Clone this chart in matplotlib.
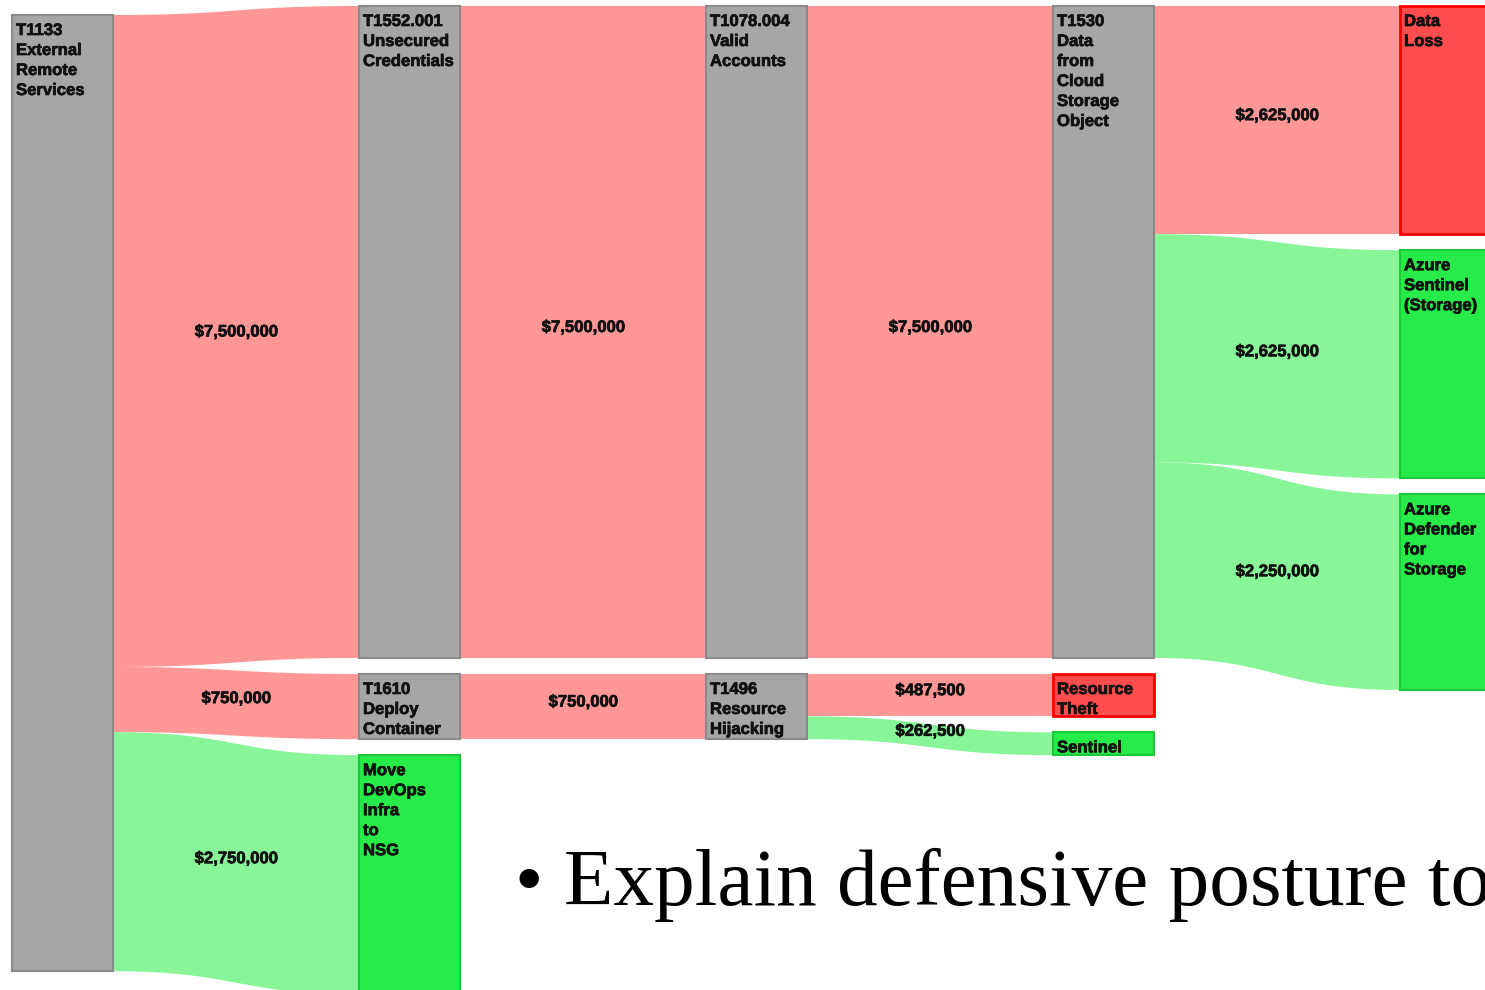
import matplotlib
matplotlib.use("Agg")
import matplotlib.pyplot as plt
from matplotlib.patches import Rectangle
import matplotlib.patheffects as pe
import numpy as np

# ---------------- data ----------------
node_names = [
    "T1133\nExternal\nRemote\nServices",          # 0
    "T1552.001\nUnsecured\nCredentials",           # 1
    "T1610\nDeploy\nContainer",                    # 2
    "Move\nDevOps\nInfra\nto\nNSG",                # 3
    "T1078.004\nValid\nAccounts",                  # 4
    "T1496\nResource\nHijacking",                  # 5
    "T1530\nData\nfrom\nCloud\nStorage\nObject",   # 6
    "Resource\nTheft",                             # 7
    "Sentinel",                                    # 8
    "Data\nLoss",                                  # 9
    "Azure\nSentinel\n(Storage)",                  # 10
    "Azure\nDefender\nfor\nStorage",               # 11
]
node_kind = ["gray", "gray", "gray", "green", "gray", "gray", "gray",
             "red", "green", "red", "green", "green"]
node_column = [0, 1, 1, 1, 2, 2, 3, 3, 3, 4, 4, 4]

link_source = [0, 0, 0, 1, 2, 4, 5, 5, 6, 6, 6]
link_target = [1, 2, 3, 4, 5, 6, 7, 8, 9, 10, 11]
link_value = [7_500_000, 750_000, 2_750_000, 7_500_000, 750_000, 7_500_000,
              487_500, 262_500, 2_625_000, 2_625_000, 2_250_000]
link_kind = ["red", "red", "green", "red", "red", "red",
             "red", "green", "red", "green", "green"]

slide_text = "\u2022 Explain defensive posture to"

# ---------------- styles / layout ----------------
W, H = 1485, 990
PX_PER_DOLLAR = 86.93 / 1_000_000
NODE_W = 101
COL_X0 = 12
COL_STEP = 347
GAP = 16
COL_TOP = {0: 15, 1: 6, 2: 6, 3: 6, 4: 6}

node_fill = {"gray": "#a6a6a6", "red": "#ff4d4d", "green": "#26eb48"}
node_edge = {"gray": "#8a8a8a", "red": "#ff0000", "green": "#1cc83a"}
link_fill = {"red": "#ff9797", "green": "#89f599"}

FONT = "Liberation Sans"
FS = 12
stroke = [pe.withStroke(linewidth=0.5, foreground="#111111")]

fig = plt.figure(figsize=(W / 100, H / 100), dpi=100)
ax = fig.add_axes([0, 0, 1, 1])
ax.set_xlim(0, W)
ax.set_ylim(H, 0)
ax.axis("off")

# node values
n = len(node_names)
in_sum = np.zeros(n)
out_sum = np.zeros(n)
for s, t, v in zip(link_source, link_target, link_value):
    out_sum[s] += v
    in_sum[t] += v
node_val = np.maximum(in_sum, out_sum)

# node positions
node_x = [COL_X0 + c * COL_STEP for c in node_column]
node_y = [0.0] * n
node_h = [v * PX_PER_DOLLAR for v in node_val]
cursor = {}
for i in range(n):
    c = node_column[i]
    y = cursor.get(c, COL_TOP[c])
    node_y[i] = y
    cursor[c] = y + node_h[i] + GAP

# link positions
order = sorted(range(len(link_value)), key=lambda k: (link_source[k], node_y[link_target[k]]))
src_off = {i: node_y[i] for i in range(n)}
tgt_off = {i: node_y[i] for i in range(n)}
link_geom = {}
for k in order:
    s = link_source[k]
    h = link_value[k] * PX_PER_DOLLAR
    link_geom[k] = {"sy": src_off[s], "h": h}
    src_off[s] += h
order_t = sorted(range(len(link_value)), key=lambda k: (link_target[k], node_y[link_source[k]]))
for k in order_t:
    t = link_target[k]
    link_geom[k]["ty"] = tgt_off[t]
    tgt_off[t] += link_geom[k]["h"]


def bez(x0, y0, x1, y1, num=80):
    tt = np.linspace(0, 1, num)
    xm = (x0 + x1) / 2
    px = (1 - tt) ** 3 * x0 + 3 * (1 - tt) ** 2 * tt * xm + 3 * (1 - tt) * tt ** 2 * xm + tt ** 3 * x1
    py = (1 - tt) ** 3 * y0 + 3 * (1 - tt) ** 2 * tt * y0 + 3 * (1 - tt) * tt ** 2 * y1 + tt ** 3 * y1
    return px, py


for k in range(len(link_value)):
    s, t = link_source[k], link_target[k]
    g = link_geom[k]
    x0 = node_x[s] + NODE_W
    x1 = node_x[t]
    tx, ty = bez(x0, g["sy"], x1, g["ty"])
    bx, by = bez(x0, g["sy"] + g["h"], x1, g["ty"] + g["h"])
    xs = np.concatenate([tx, bx[::-1]])
    ys = np.concatenate([ty, by[::-1]])
    ax.fill(xs, ys, color=link_fill[link_kind[k]], lw=0, zorder=1)
    # value label
    xm = (x0 + x1) / 2
    ym = ((g["sy"] + g["ty"]) / 2) + g["h"] / 2
    ax.text(xm, ym, f"${link_value[k]:,.0f}", ha="center", va="baseline",
            fontsize=FS, fontweight="bold", family=FONT, color="#111111", zorder=4,
            path_effects=stroke)

for i in range(n):
    kind = node_kind[i]
    lw = 2.0 if kind == "red" else 1.5
    ax.add_patch(Rectangle((node_x[i], node_y[i]), NODE_W, node_h[i],
                           facecolor=node_fill[kind], edgecolor=node_edge[kind],
                           lw=lw, zorder=3))
    for j, line in enumerate(node_names[i].split("\n")):
        ax.text(node_x[i] + 4, node_y[i] + 20 + j * 20, line, ha="left", va="baseline",
                fontsize=FS, fontweight="bold", family=FONT, color="#111111", zorder=4,
                path_effects=stroke)

ax.text(515, 905, slide_text, ha="left", va="baseline", fontsize=58.5,
        family="Liberation Serif", color="black", zorder=5)

fig.savefig("out.png", dpi=100)
